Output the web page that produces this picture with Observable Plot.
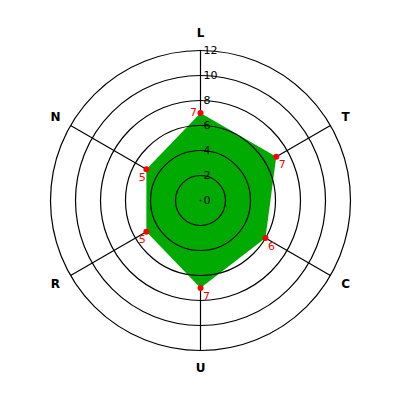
<!DOCTYPE html>
<html><head><meta charset="utf-8">
<script src="https://cdn.jsdelivr.net/npm/d3@7"></script>
<script src="https://cdn.jsdelivr.net/npm/@observablehq/plot@0.6"></script>
<style>body{margin:0;background:#fff}#c{width:400px;height:400px}</style>
</head><body><div id="c"></div>
<script>
const axes = ["L","T","C","U","R","N"];
const values = [7,7,6,7,5,5];
const rings = [2,4,6,8,10,12];
const tickLabels = [0,2,4,6,8,10,12];
const maxR = 12;
const labelR = 13.4;

const ang = i => i * 2 * Math.PI / axes.length;
const pts = axes.map((a,i)=>({axis:a, v:values[i], x:values[i]*Math.sin(ang(i)), y:values[i]*Math.cos(ang(i))}));
const spokes = axes.map((a,i)=>({axis:a, x:maxR*Math.sin(ang(i)), y:maxR*Math.cos(ang(i)), lx:labelR*Math.sin(ang(i)), ly:labelR*Math.cos(ang(i))}));
const isTop = d => Math.abs(d.x) < 1e-6 && d.y > 0;

const chart = Plot.plot({
  width:400, height:400, margin:0,
  x:{domain:[-16,16], axis:null},
  y:{domain:[-16,16], axis:null},
  r:{type:"linear", domain:[0,16], range:[0,200]},
  style:{fontFamily:"DejaVu Sans, sans-serif", background:"white"},
  marks:[
    Plot.link(spokes, {x1:0, y1:0, x2:"x", y2:"y", stroke:"black", strokeWidth:1.2}),
    Plot.line(pts, {x:"x", y:"y", curve:"linear-closed", fill:"#00aa00", stroke:"none"}),
    Plot.dot(rings, {x:0, y:0, r:d=>d, stroke:"black", fill:"none", strokeWidth:1.2}),
    Plot.dot([0], {x:0, y:0, r:0.8, fill:"black"}),
    Plot.text(tickLabels, {x:0, y:d=>d, text:d=>String(d), textAnchor:"start", dx:3, fontSize:11, fill:"black"}),
    Plot.text(spokes, {x:"lx", y:"ly", text:"axis", fontSize:12, fontWeight:"bold", fill:"black"}),
    Plot.dot(pts, {x:"x", y:"y", r:3, fill:"red", stroke:"none"}),
    Plot.text(pts.filter(isTop), {x:"x", y:"y", text:d=>String(d.v), dx:-7, dy:-1, fontSize:11, fill:"red"}),
    Plot.text(pts.filter(d=>!isTop(d) && d.x>=0), {x:"x", y:"y", text:d=>String(d.v), dx:6, dy:8, fontSize:11, fill:"red"}),
    Plot.text(pts.filter(d=>d.x<0), {x:"x", y:"y", text:d=>String(d.v), dx:-4, dy:8, fontSize:11, fill:"red"})
  ]
});
document.getElementById("c").appendChild(chart);
</script></body></html>
